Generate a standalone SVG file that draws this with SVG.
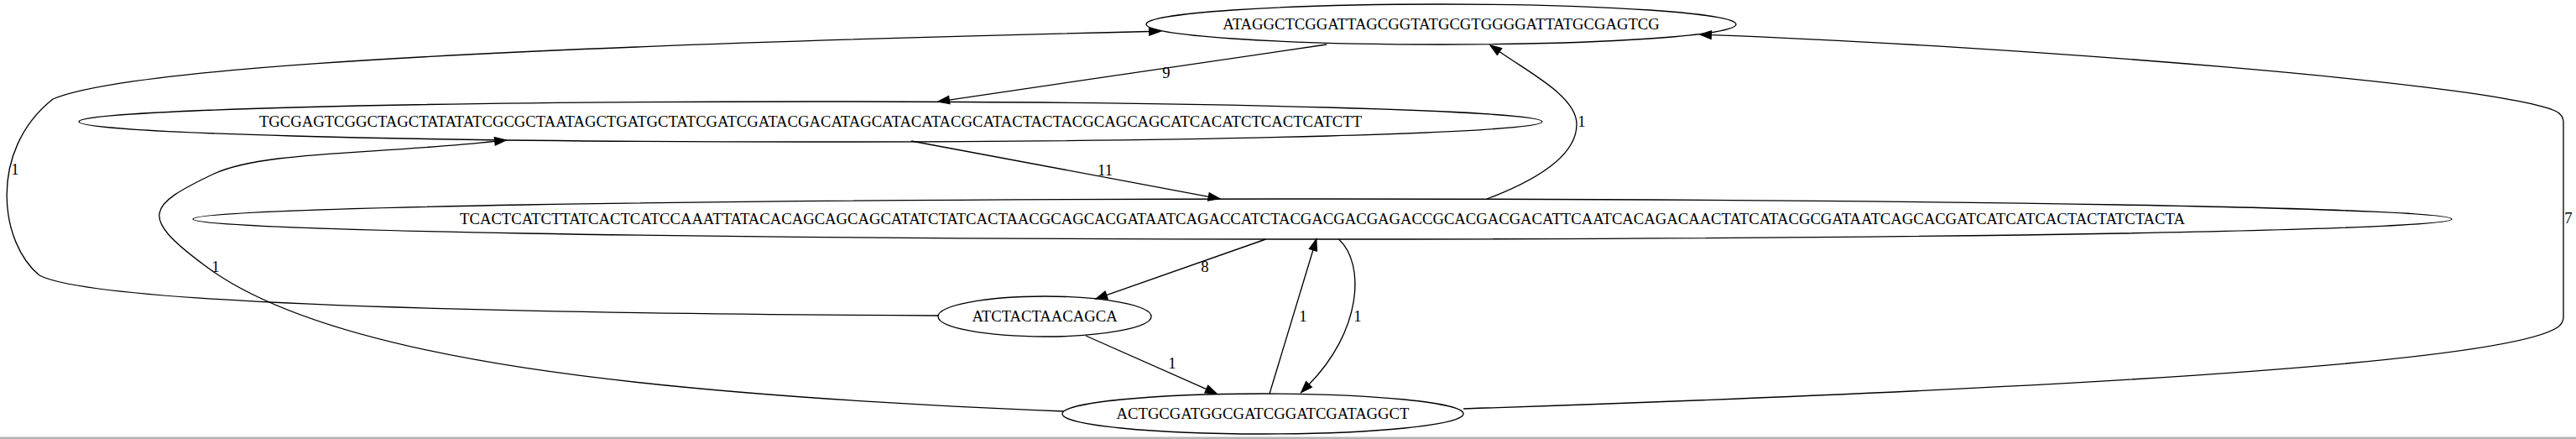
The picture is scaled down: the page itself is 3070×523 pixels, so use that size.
<svg xmlns="http://www.w3.org/2000/svg" width="3070" height="523" viewBox="0 0 3070 523">
<style>
.node ellipse{fill:none;stroke:#000;stroke-width:1.33}
.node text,.lbl{font-family:"Liberation Serif","Times New Roman",serif;font-size:18.67px;fill:#000;text-anchor:middle}
.edge{fill:none;stroke:#000;stroke-width:1.33;marker-end:url(#arr)}
</style>
<defs>
<marker id="arr" markerUnits="userSpaceOnUse" markerWidth="16" markerHeight="14" refX="0" refY="7" orient="auto" overflow="visible">
<path d="M0,2.33 L13.3,7 L0,11.67 z" fill="#000" stroke="#000" stroke-width="1.33"/>
</marker>
</defs>
<rect x="0" y="0" width="3070" height="523" fill="#fff"/>
<g id="connectors">
<path class="edge" d="M1581,53 L1131.2,119.1"/>
<text class="lbl" x="1390" y="93">9</text>
<path class="edge" d="M1086,168 L1440.4,234.3"/>
<text class="lbl" x="1317" y="209">11</text>
<path class="edge" d="M1772,237 C1830,215 1880,185 1879,147 C1878,115 1825,88 1787,61.5"/>
<text class="lbl" x="1885" y="151">1</text>
<path class="edge" d="M1508.5,285 L1318.6,351.6"/>
<text class="lbl" x="1436" y="324">8</text>
<path class="edge" d="M1294,400 L1437.8,463.6"/>
<text class="lbl" x="1397" y="439">1</text>
<path class="edge" d="M1513,469 L1564.9,297.7"/>
<text class="lbl" x="1553" y="383">1</text>
<path class="edge" d="M1595.5,285 C1628,315 1622,395 1560,458"/>
<text class="lbl" x="1618" y="383">1</text>
<path class="edge" d="M1118,376 C700,374 120,366 47,328 C0,290 -15,180 63,118 C130,90 400,60 1369.7,37.5"/>
<text class="lbl" x="18" y="208">1</text>
<path class="edge" d="M1268,490 C768,470 395,429.5 245,317 C165,258 175,245 255,207 C315,180 440,184.4 589.8,168.4"/>
<text class="lbl" x="257" y="324">1</text>
<path class="edge" d="M1744,487 C2400,465 2980,435 3048,390 C3052,387 3055,383 3055,378 L3055,145 C3055,140 3052,136 3047,133 C2980,100 2400,55 2039.3,41.6"/>
<text class="lbl" x="3061" y="266">7</text>
</g>
<g id="node-A" class="node">
<ellipse cx="1717.5" cy="29" rx="351.5" ry="24"/>
<text x="1717.5" y="35">ATAGGCTCGGATTAGCGGTATGCGTGGGGATTATGCGAGTCG</text>
</g>
<g id="node-B" class="node">
<ellipse cx="966" cy="145" rx="872" ry="24"/>
<text x="966" y="151">TGCGAGTCGGCTAGCTATATATCGCGCTAATAGCTGATGCTATCGATCGATACGACATAGCATACATACGCATACTACTACGCAGCAGCATCACATCTCACTCATCTT</text>
</g>
<g id="node-C" class="node">
<ellipse cx="1576" cy="261" rx="1346" ry="24"/>
<text x="1576" y="267">TCACTCATCTTATCACTCATCCAAATTATACACAGCAGCAGCATATCTATCACTAACGCAGCACGATAATCAGACCATCTACGACGACGAGACCGCACGACGACATTCAATCACAGACAACTATCATACGCGATAATCAGCACGATCATCATCACTACTATCTACTA</text>
</g>
<g id="node-D" class="node">
<ellipse cx="1245" cy="377" rx="127" ry="24"/>
<text x="1245" y="383">ATCTACTAACAGCA</text>
</g>
<g id="node-E" class="node">
<ellipse cx="1505" cy="493" rx="239" ry="24"/>
<text x="1505" y="499">ACTGCGATGGCGATCGGATCGATAGGCT</text>
</g>
<rect x="0" y="520.5" width="3070" height="2.5" fill="#b4b4b4"/>
</svg>
